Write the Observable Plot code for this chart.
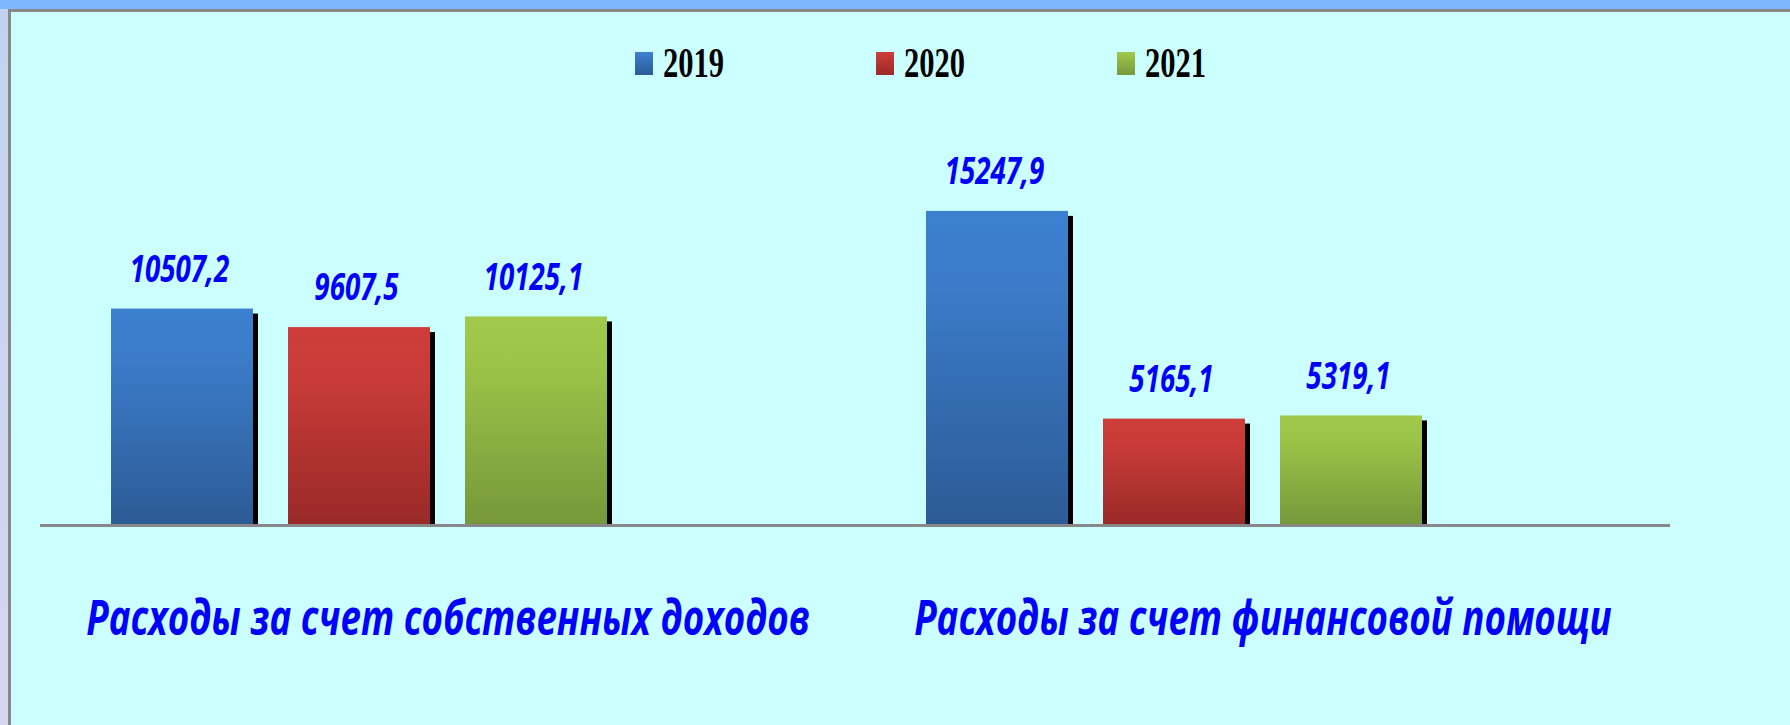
<!DOCTYPE html>
<html>
<head>
<meta charset="utf-8">
<script src="https://cdn.jsdelivr.net/npm/d3@7"></script>
<script src="https://cdn.jsdelivr.net/npm/@observablehq/plot@0.6"></script>
<style>
  html, body { margin: 0; padding: 0; }
  body { width: 1790px; height: 725px; position: relative; overflow: hidden; background: #ccffff; }
  .band-top { position: absolute; left: 0; top: 0; width: 1790px; height: 9px; background: #80b8ff; }
  .band-left { position: absolute; left: 0; top: 9px; width: 8px; height: 716px; background: linear-gradient(#c2d2ee, #d6d6f0); }
  .line-top { position: absolute; left: 8px; top: 9px; width: 1782px; height: 3px; background: #888888; }
  .line-left { position: absolute; left: 8px; top: 9px; width: 3px; height: 716px; background: #888888; }
  #legend { position: absolute; left: 0; top: 0; width: 1790px; height: 100px; }
  .lg-item { position: absolute; top: 0; height: 100px; }
  .lg-swatch { position: absolute; top: 52px; left: 0; width: 18px; height: 23px; }
  .lg-text { position: absolute; top: 41px; left: 28px; font-family: "Liberation Serif", "Times New Roman", serif; font-weight: bold; font-size: 43px; line-height: 43px; color: #000; transform: scaleX(0.71); transform-origin: left center; white-space: nowrap; }
  #chart { position: absolute; left: 0; top: 100px; }
</style>
</head>
<body>
<div class="band-top"></div>
<div class="band-left"></div>
<div class="line-top"></div>
<div class="line-left"></div>
<div id="legend"></div>
<div id="chart"></div>
<script>
// ---- data ----
const categories = ["Расходы за счет собственных доходов", "Расходы за счет финансовой помощи"];
const years = ["2019", "2020", "2021"];
const values2019 = [10507.2, 15247.9];
const values2020 = [9607.5, 5165.1];
const values2021 = [10125.1, 5319.1];

// ---- styles ----
const gradients = {
  "2019": [["0%", "#3d80d0"], ["25%", "#3b7bc8"], ["100%", "#2c5b95"]],
  "2020": [["0%", "#ce3d3a"], ["25%", "#c93b38"], ["100%", "#992a28"]],
  "2021": [["0%", "#a1c94b"], ["22%", "#9cc448"], ["100%", "#76983a"]]
};
const labelColor = "#0000ff";
const valueCondense = 0.75;
const categoryCondense = 0.765;

const seriesValues = [values2019, values2020, values2021];
const rows = categories.flatMap((c, i) => years.map((yr, j) => ({category: c, year: yr, value: seriesValues[j][i]})));
const fmt = v => v.toFixed(1).replace(".", ",");

// legend
const legend = document.getElementById("legend");
const legendX = [635, 876, 1117];
years.forEach((yr, i) => {
  const item = document.createElement("div");
  item.className = "lg-item";
  item.style.left = legendX[i] + "px";
  const sw = document.createElement("div");
  sw.className = "lg-swatch";
  const st = gradients[yr];
  sw.style.background = `linear-gradient(${st[0][1]}, ${st[st.length - 1][1]})`;
  const tx = document.createElement("div");
  tx.className = "lg-text";
  tx.textContent = yr;
  item.appendChild(sw);
  item.appendChild(tx);
  legend.appendChild(item);
});

const chart = Plot.plot({
  width: 1790,
  height: 625,
  marginLeft: 40,
  marginRight: 120,
  marginTop: 13,
  marginBottom: 200,
  style: {background: "transparent", overflow: "visible"},
  fx: {domain: categories, padding: 0, axis: null},
  x: {domain: years, paddingInner: 0.2, paddingOuter: 0.896, align: 0.223, axis: null},
  y: {domain: [0, 20000], axis: null},
  marks: [
    Plot.barY(rows, {fx: "category", x: "year", y: "value", fill: "black", dx: 5, dy: 5, insetBottom: 5}),
    ...years.map(yr => Plot.barY(rows.filter(d => d.year === yr), {fx: "category", x: "year", y: "value", fill: `url(#grad-${yr})`})),
    Plot.ruleY([0], {stroke: "#888888", strokeWidth: 3}),
    Plot.text(rows, {
      fx: "category", x: "year", y: "value", text: d => fmt(d.value),
      dy: -39, dx: -3, fill: labelColor, fontSize: 37, fontWeight: "bold", fontStyle: "italic",
      fontFamily: "Open Sans"
    }),
    Plot.text(categories, {
      fx: d => d, text: d => d, frameAnchor: "bottom", dy: 109,
      fill: labelColor, fontSize: 48, fontWeight: "bold", fontStyle: "italic",
      fontFamily: "Open Sans"
    })
  ]
});

document.getElementById("chart").appendChild(chart);

// gradient defs
const svg = d3.select(chart);
const defs = svg.insert("defs", ":first-child");
years.forEach(yr => {
  const g = defs.append("linearGradient").attr("id", `grad-${yr}`).attr("x1", 0).attr("y1", 0).attr("x2", 0).attr("y2", 1);
  gradients[yr].forEach(([o, c]) => g.append("stop").attr("offset", o).attr("stop-color", c));
});

// condense text horizontally like the original
svg.selectAll("text").each(function() {
  const t = this.textContent;
  const factor = categories.includes(t) ? categoryCondense : valueCondense;
  const w = this.getComputedTextLength();
  if (w > 0) {
    this.setAttribute("textLength", (w * factor).toFixed(1));
    this.setAttribute("lengthAdjust", "spacingAndGlyphs");
  }
});
</script>
</body>
</html>
